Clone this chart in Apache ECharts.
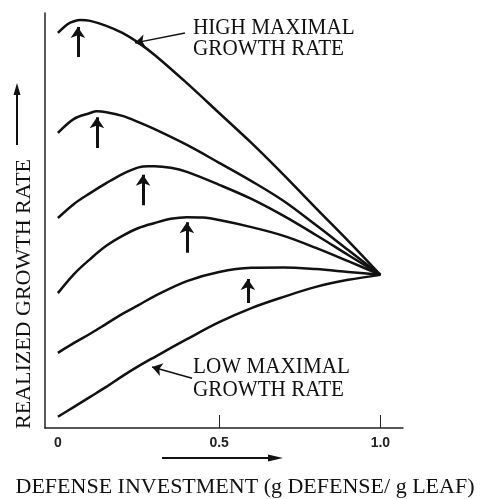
<!DOCTYPE html>
<html>
<head>
<meta charset="utf-8">
<title>Defense investment vs realized growth</title>
<script src="https://cdn.jsdelivr.net/npm/echarts@6/dist/echarts.min.js"></script>
<style>
  html, body { margin: 0; padding: 0; background: #fff; }
  #main { width: 480px; height: 499px; }
</style>
</head>
<body>
<div id="main"></div>
<script type="text/javascript">
// curves, top (high maximal growth rate) to bottom (low), as [defense, growth]
var curve1 = [[0, 95.2], [0.03, 97.3], [0.05, 98.0], [0.07, 98.3], [0.1, 98.1], [0.15, 96.9], [0.2, 95.2], [0.25, 92.8],
  [0.3, 89.9], [0.4, 83.1], [0.5, 75.9], [0.6, 68.7], [0.7, 61.0], [0.8, 53.0], [0.9, 45.1], [1.0, 36.9]];
var curve2 = [[0, 71.1], [0.05, 74.5], [0.1, 75.9], [0.12, 76.3], [0.15, 76.1], [0.2, 75.2], [0.25, 73.7], [0.3, 72.0],
  [0.4, 68.2], [0.5, 63.9], [0.6, 59.5], [0.7, 54.7], [0.8, 48.9], [0.9, 42.9], [1.0, 36.9]];
var curve3 = [[0, 50.6], [0.05, 54.0], [0.1, 56.6], [0.15, 59.0], [0.2, 61.2], [0.25, 62.8], [0.28, 63.1], [0.3, 63.1],
  [0.35, 62.7], [0.4, 61.7], [0.5, 58.6], [0.6, 55.2], [0.7, 51.1], [0.8, 46.5], [0.9, 41.7], [1.0, 36.9]];
var curve4 = [[0, 32.5], [0.05, 37.1], [0.1, 40.7], [0.15, 43.9], [0.2, 46.3], [0.25, 48.2], [0.3, 49.4], [0.35, 50.4],
  [0.4, 50.8], [0.45, 50.7], [0.5, 50.1], [0.6, 48.4], [0.7, 46.3], [0.8, 43.4], [0.9, 40.2], [1.0, 36.9]];
var curve5 = [[0, 18.1], [0.05, 20.5], [0.1, 22.7], [0.15, 25.1], [0.2, 27.5], [0.25, 29.6], [0.3, 31.8], [0.4, 35.4],
  [0.5, 37.6], [0.6, 38.6], [0.7, 38.7], [0.8, 38.3], [0.9, 37.6], [1.0, 36.9]];
var curve6 = [[0, 2.7], [0.05, 5.1], [0.1, 7.5], [0.15, 9.9], [0.2, 12.5], [0.25, 14.9], [0.3, 17.1], [0.4, 21.4],
  [0.5, 25.5], [0.6, 28.9], [0.7, 31.6], [0.8, 34.0], [0.9, 35.7], [1.0, 36.9]];

// optimum markers under each peak: [defense, from, to]
var optimumArrows = [[0.062, 89.4, 96.6], [0.121, 67.5, 74.9], [0.264, 53.7, 61.0], [0.400, 42.2, 49.6], [0.589, 30.1, 35.9]];
// label pointers: [x1, y1, x2, y2]
var labelArrows = [[0.394, 95.2, 0.239, 92.8], [0.416, 12.0, 0.292, 14.7]];

var xTickLabels = [0, 0.5, 1.0];
var xTicks = [0.5, 1.0];

var curves = [curve1, curve2, curve3, curve4, curve5, curve6];

var myChart = echarts.init(document.getElementById('main'));

var seriesList = curves.map(function (c) {
  return {
    type: 'line',
    data: c,
    smooth: 0.35,
    showSymbol: false,
    clip: false,
    lineStyle: { color: '#111', width: 2.5 }
  };
});

seriesList.push({
  type: 'lines',
  coordinateSystem: 'cartesian2d',
  symbol: ['none', 'arrow'],
  symbolSize: [8, 11],
  lineStyle: { color: '#111', width: 3, opacity: 1 },
  data: optimumArrows.map(function (a) {
    return { coords: [[a[0], a[1]], [a[0], a[2]]] };
  })
});

seriesList.push({
  type: 'lines',
  coordinateSystem: 'cartesian2d',
  symbol: ['none', 'arrow'],
  symbolSize: [7, 10],
  lineStyle: { color: '#111', width: 1.5, opacity: 1 },
  data: labelArrows.map(function (a) {
    return { coords: [[a[0], a[1]], [a[2], a[3]]] };
  })
});

var serif = '"Liberation Serif", "DejaVu Serif", serif';

var option = {
  animation: false,
  backgroundColor: '#fff',
  grid: { left: 45, right: 77, top: 13, bottom: 71, containLabel: false },
  xAxis: {
    type: 'value',
    min: -0.04,
    max: 1.07,
    splitLine: { show: false },
    axisLine: { onZero: false, lineStyle: { color: '#222', width: 1.5 } },
    axisTick: { inside: true, length: 13, customValues: xTicks, lineStyle: { color: '#222', width: 1 } },
    axisLabel: {
      customValues: xTickLabels,
      margin: 8,
      color: '#222',
      fontFamily: '"Liberation Sans", Arial, sans-serif',
      fontWeight: 'bold',
      fontSize: 14,
      formatter: function (v) { return v === 0 ? '0' : v.toFixed(1); }
    }
  },
  yAxis: {
    type: 'value',
    min: 0,
    max: 100,
    splitLine: { show: false },
    axisLine: { show: true, onZero: false, lineStyle: { color: '#222', width: 1.5 } },
    axisTick: { show: false },
    axisLabel: { show: false }
  },
  graphic: [
    { type: 'text', x: 193, y: 28, scaleX: 0.92, style: { text: 'HIGH MAXIMAL', font: '23px ' + serif, fill: '#111', verticalAlign: 'middle' } },
    { type: 'text', x: 193, y: 49, scaleX: 0.92, style: { text: 'GROWTH RATE', font: '23px ' + serif, fill: '#111', verticalAlign: 'middle' } },
    { type: 'text', x: 193, y: 366.5, scaleX: 0.92, style: { text: 'LOW MAXIMAL', font: '23px ' + serif, fill: '#111', verticalAlign: 'middle' } },
    { type: 'text', x: 193, y: 389.5, scaleX: 0.92, style: { text: 'GROWTH RATE', font: '23px ' + serif, fill: '#111', verticalAlign: 'middle' } },
    { type: 'text', x: 245, y: 487.5, style: { text: 'DEFENSE INVESTMENT (g DEFENSE/ g LEAF)', font: '22px ' + serif, fill: '#111', align: 'center', verticalAlign: 'middle' } },
    { type: 'text', x: 24.5, y: 294, rotation: Math.PI / 2, style: { text: 'REALIZED GROWTH RATE', font: '22px ' + serif, fill: '#111', align: 'center', verticalAlign: 'middle' } },
    // axis title arrows
    { type: 'line', shape: { x1: 17, y1: 145, x2: 17, y2: 92 }, style: { stroke: '#111', lineWidth: 2 } },
    { type: 'polygon', shape: { points: [[17, 83], [13.5, 95], [20.5, 95]] }, style: { fill: '#111' } },
    { type: 'line', shape: { x1: 162, y1: 458, x2: 272, y2: 458 }, style: { stroke: '#111', lineWidth: 2 } },
    { type: 'polygon', shape: { points: [[283, 458], [268, 454.5], [268, 461.5]] }, style: { fill: '#111' } }
  ],
  series: seriesList
};

myChart.setOption(option);
</script>
</body>
</html>
